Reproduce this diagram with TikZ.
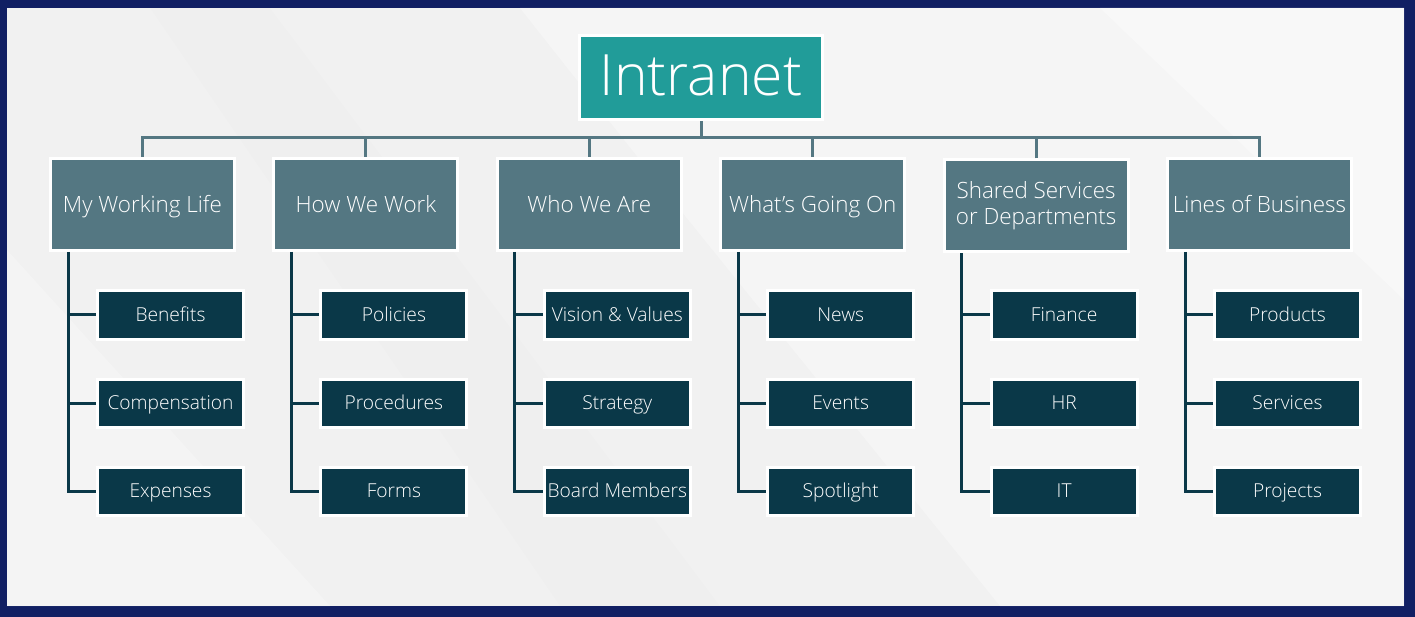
\documentclass[tikz,border=0pt]{standalone}
\usepackage{fontspec}
\IfFontExistsTF{Open Sans Light}{\setmainfont{Open Sans Light}}{\setmainfont{Open Sans}}
\usepackage{xcolor}
\usetikzlibrary{positioning}

\definecolor{frame}{HTML}{111F63}
\definecolor{paper}{HTML}{F1F1F1}
\definecolor{teal}{HTML}{219C99}
\definecolor{slate}{HTML}{547782}
\definecolor{deep}{HTML}{0A3848}

\begin{document}
\begin{tikzpicture}[x=1pt, y=-1pt]
\tikzstyle{vertext}=[rectangle, fill=teal, draw=white, line width=3pt, minimum width=243pt, minimum height=84pt, inner sep=0pt, text=white, text height=51pt, text depth=16pt, font=\fontsize{57}{60}\selectfont]
\tikzstyle{vertexc}=[rectangle, fill=slate, draw=white, line width=3pt, minimum width=184pt, minimum height=92pt, inner sep=0pt, text=white, text height=20.2pt, text depth=4.2pt, font=\fontsize{22.4}{26}\selectfont]
\tikzstyle{vertexs}=[rectangle, fill=deep, draw=white, line width=3pt, minimum width=146pt, minimum height=48pt, inner sep=0pt, text=white, text height=17.2pt, text depth=3.6pt, font=\fontsize{19.2}{22}\selectfont]
\tikzstyle{barstyle}=[line width=3pt, draw=slate]
\tikzstyle{trunkstyle}=[line width=3pt, draw=deep]

% frame and background
\fill[frame] (0,0) rectangle (1415,617);
\fill[paper] (7,8) rectangle (1404,606);
\fill[white, opacity=0.3] (520,8) -- (1404,8) -- (1404,606) -- (1000,606) -- (640,160) -- cycle;
\fill[white, opacity=0.25] (7,250) -- (330,606) -- (7,606) -- cycle;
\fill[black, opacity=0.008] (150,8) -- (270,8) -- (720,606) -- (560,606) -- cycle;
\fill[white, opacity=0.3] (1100,8) -- (1404,8) -- (1404,300) -- cycle;
\useasboundingbox (0,0) rectangle (1415,617);

% top
\node[vertext] (T) at (701,78) {Intranet};
\coordinate (bar) at (701,138);

% categories
\node[vertexc] (C1) at (142.5,204.5) {My Working Life};
\node[vertexc] (C2) at (365.9,204.5) {How We Work};
\node[vertexc] (C3) at (589.3,204.5) {Who We Are};
\node[vertexc] (C4) at (812.7,204.5) {What’s Going On};
\node[vertexc, text height=, text depth=, align=center] (C5) at (1036.1,206) {Shared Services\\or Departments};
\node[vertexc] (C6) at (1259.5,204.5) {Lines of Business};

\draw[barstyle] (T.south) -- (T.south |- bar);
\draw[barstyle] (C1.north) |- (C6.north |- bar) -- (C6.north);
\draw[barstyle] (C2.north) -- (C2.north |- bar);
\draw[barstyle] (C3.north) -- (C3.north |- bar);
\draw[barstyle] (C4.north) -- (C4.north |- bar);
\draw[barstyle] (C5.north) -- (C5.north |- bar);

% column 1
\node[vertexs] (C1x1) at (170.5,315) {Benefits};
\node[vertexs] (C1x2) at (170.5,403) {Compensation};
\node[vertexs] (C1x3) at (170.5,491) {Expenses};
\draw[trunkstyle] ([xshift=-74.5pt]C1.south) |- (C1x3.west);
\draw[trunkstyle] ([xshift=-74.5pt]C1.south |- C1x1.west) -- (C1x1.west);
\draw[trunkstyle] ([xshift=-74.5pt]C1.south |- C1x2.west) -- (C1x2.west);

% column 2
\node[vertexs] (C2x1) at (393.9,315) {Policies};
\node[vertexs] (C2x2) at (393.9,403) {Procedures};
\node[vertexs] (C2x3) at (393.9,491) {Forms};
\draw[trunkstyle] ([xshift=-74.5pt]C2.south) |- (C2x3.west);
\draw[trunkstyle] ([xshift=-74.5pt]C2.south |- C2x1.west) -- (C2x1.west);
\draw[trunkstyle] ([xshift=-74.5pt]C2.south |- C2x2.west) -- (C2x2.west);

% column 3
\node[vertexs] (C3x1) at (617.3,315) {Vision \& Values};
\node[vertexs] (C3x2) at (617.3,403) {Strategy};
\node[vertexs] (C3x3) at (617.3,491) {Board Members};
\draw[trunkstyle] ([xshift=-74.5pt]C3.south) |- (C3x3.west);
\draw[trunkstyle] ([xshift=-74.5pt]C3.south |- C3x1.west) -- (C3x1.west);
\draw[trunkstyle] ([xshift=-74.5pt]C3.south |- C3x2.west) -- (C3x2.west);

% column 4
\node[vertexs] (C4x1) at (840.7,315) {News};
\node[vertexs] (C4x2) at (840.7,403) {Events};
\node[vertexs] (C4x3) at (840.7,491) {Spotlight};
\draw[trunkstyle] ([xshift=-74.5pt]C4.south) |- (C4x3.west);
\draw[trunkstyle] ([xshift=-74.5pt]C4.south |- C4x1.west) -- (C4x1.west);
\draw[trunkstyle] ([xshift=-74.5pt]C4.south |- C4x2.west) -- (C4x2.west);

% column 5
\node[vertexs] (C5x1) at (1064.1,315) {Finance};
\node[vertexs] (C5x2) at (1064.1,403) {HR};
\node[vertexs] (C5x3) at (1064.1,491) {IT};
\draw[trunkstyle] ([xshift=-74.5pt]C5.south) |- (C5x3.west);
\draw[trunkstyle] ([xshift=-74.5pt]C5.south |- C5x1.west) -- (C5x1.west);
\draw[trunkstyle] ([xshift=-74.5pt]C5.south |- C5x2.west) -- (C5x2.west);

% column 6
\node[vertexs] (C6x1) at (1287.5,315) {Products};
\node[vertexs] (C6x2) at (1287.5,403) {Services};
\node[vertexs] (C6x3) at (1287.5,491) {Projects};
\draw[trunkstyle] ([xshift=-74.5pt]C6.south) |- (C6x3.west);
\draw[trunkstyle] ([xshift=-74.5pt]C6.south |- C6x1.west) -- (C6x1.west);
\draw[trunkstyle] ([xshift=-74.5pt]C6.south |- C6x2.west) -- (C6x2.west);
\end{tikzpicture}
\end{document}
